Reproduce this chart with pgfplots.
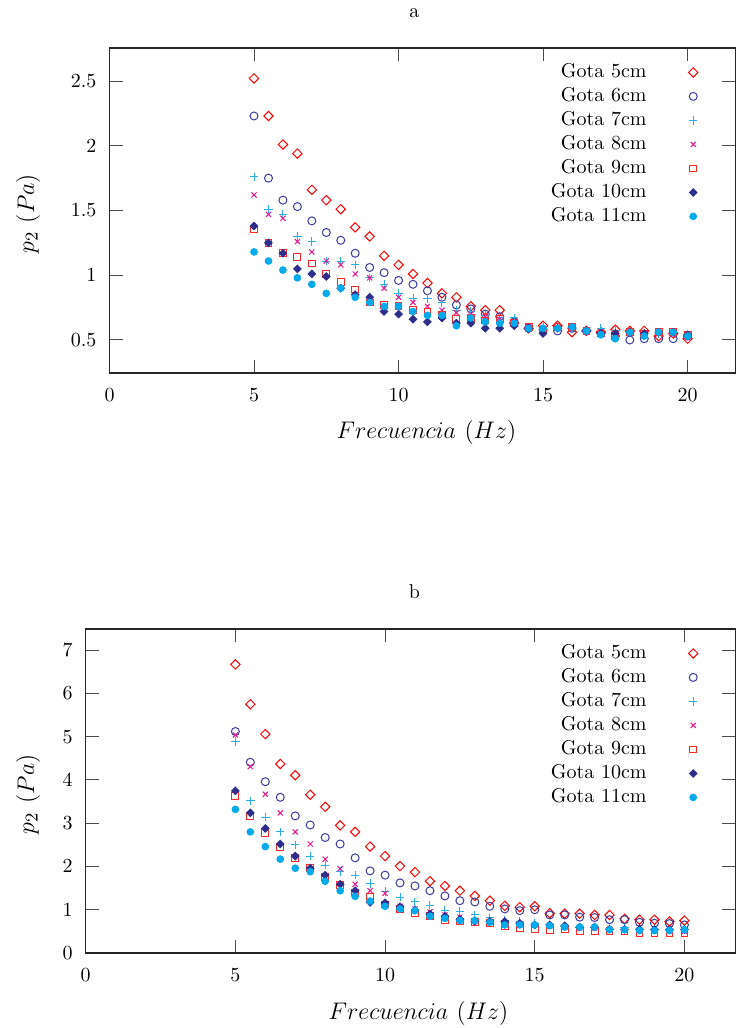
\documentclass[border=0pt]{standalone}
\usepackage{pgfplots}
\usepackage{pgfplotstable}
\pgfplotsset{compat=1.18}

\definecolor{c5}{RGB}{255,0,0}
\definecolor{c6}{RGB}{60,60,160}
\definecolor{c7}{RGB}{40,175,230}
\definecolor{c8}{RGB}{230,20,140}
\definecolor{c9}{RGB}{255,40,40}
\definecolor{c10}{RGB}{45,45,140}
\definecolor{c11}{RGB}{0,170,235}

% p2 (Pa) vs frecuencia, case a
\pgfplotstableread{
x    g5   g6   g7   g8   g9   g10  g11
5    2.52 2.23 1.76 1.62 1.36 1.38 1.18
5.5  2.23 1.75 1.51 1.47 1.25 1.25 1.11
6    2.01 1.58 1.47 1.44 1.17 1.17 1.04
6.5  1.94 1.53 1.30 1.26 1.14 1.05 0.98
7    1.66 1.42 1.26 1.18 1.09 1.01 0.93
7.5  1.58 1.33 1.11 1.11 1.01 0.99 0.86
8    1.51 1.27 1.11 1.08 0.95 0.90 0.90
8.5  1.37 1.17 1.08 1.01 0.89 0.85 0.83
9    1.30 1.06 0.98 0.98 0.79 0.83 0.79
9.5  1.15 1.02 0.93 0.90 0.77 0.72 0.76
10   1.08 0.96 0.86 0.83 0.76 0.70 0.76
10.5 1.01 0.93 0.82 0.79 0.73 0.66 0.72
11   0.94 0.88 0.82 0.76 0.72 0.64 0.69
11.5 0.86 0.83 0.79 0.73 0.69 0.67 0.69
12   0.83 0.77 0.73 0.71 0.66 0.63 0.61
12.5 0.76 0.74 0.72 0.70 0.67 0.63 0.67
13   0.73 0.70 0.69 0.68 0.65 0.59 0.64
13.5 0.73 0.68 0.67 0.66 0.66 0.59 0.63
14   0.63 0.64 0.67 0.63 0.63 0.61 0.63
14.5 0.59 0.59 0.59 0.60 0.60 0.59 0.59
15   0.61 0.58 0.60 0.59 0.58 0.55 0.59
15.5 0.61 0.57 0.60 0.60 0.60 0.59 0.59
16   0.56 0.59 0.60 0.59 0.60 0.60 0.60
16.5 0.57 0.57 0.57 0.57 0.57 0.57 0.57
17   0.56 0.55 0.59 0.56 0.55 0.55 0.54
17.5 0.58 0.53 0.57 0.56 0.53 0.55 0.51
18   0.57 0.50 0.56 0.55 0.56 0.56 0.56
18.5 0.57 0.51 0.55 0.55 0.55 0.55 0.53
19   0.53 0.51 0.55 0.55 0.56 0.56 0.56
19.5 0.55 0.51 0.55 0.54 0.56 0.56 0.56
20   0.51 0.53 0.54 0.54 0.54 0.54 0.53
}\dataA

% case b
\pgfplotstableread{
x    g5   g6   g7   g8   g9   g10  g11
5    6.67 5.12 4.89 5.04 3.63 3.75 3.32
5.5  5.75 4.41 3.52 4.31 3.17 3.24 2.80
6    5.06 3.96 3.14 3.67 2.77 2.88 2.46
6.5  4.37 3.60 2.80 3.24 2.46 2.52 2.17
7    4.11 3.17 2.50 2.80 2.19 2.24 1.96
7.5  3.66 2.96 2.24 2.52 1.96 1.96 1.88
8    3.38 2.67 2.03 2.17 1.76 1.80 1.66
8.5  2.95 2.52 1.88 1.95 1.57 1.59 1.44
9    2.80 2.20 1.80 1.59 1.40 1.44 1.31
9.5  2.46 1.90 1.61 1.44 1.30 1.17 1.20
10   2.24 1.80 1.42 1.38 1.12 1.16 1.08
10.5 2.01 1.62 1.29 1.08 1.02 1.07 1.02
11   1.87 1.55 1.18 1.02 0.92 0.99 0.98
11.5 1.66 1.44 1.11 0.95 0.85 0.90 0.85
12   1.55 1.32 0.99 0.88 0.76 0.85 0.80
12.5 1.44 1.21 0.96 0.83 0.73 0.78 0.75
13   1.32 1.18 0.88 0.75 0.71 0.73 0.75
13.5 1.21 1.08 0.81 0.73 0.69 0.73 0.71
14   1.09 1.02 0.75 0.69 0.63 0.73 0.65
14.5 1.06 0.98 0.73 0.65 0.58 0.69 0.65
15   1.08 1.00 0.69 0.65 0.55 0.65 0.65
15.5 0.92 0.88 0.65 0.63 0.54 0.65 0.63
16   0.91 0.88 0.62 0.60 0.55 0.63 0.60
16.5 0.91 0.83 0.60 0.58 0.50 0.60 0.60
17   0.88 0.82 0.60 0.58 0.50 0.60 0.60
17.5 0.88 0.77 0.55 0.55 0.50 0.55 0.54
18   0.79 0.77 0.58 0.54 0.50 0.55 0.54
18.5 0.77 0.71 0.55 0.52 0.45 0.55 0.52
19   0.77 0.69 0.54 0.52 0.46 0.54 0.52
19.5 0.73 0.68 0.54 0.52 0.46 0.54 0.52
20   0.75 0.65 0.55 0.50 0.46 0.54 0.54
}\dataB

\pgfplotsset{
  gota/.style={
    scale only axis,
    anchor=north west,
    xmin=0,
    xtick={0,5,10,15,20},
    tick align=inside,
    major tick length=6.5pt,
    every tick/.style={black!70, line width=0.5pt},
    axis line style={black!85, line width=0.6pt},
    xticklabel style={yshift=-4.2pt},
    yticklabel style={xshift=-3pt},
    xlabel={\fontsize{13}{15}\selectfont $Frecuencia\ (Hz)$},
    ylabel={\fontsize{13}{15}\selectfont $p_2\ (Pa)$},
    legend plot pos=right,
    legend cell align=right,
    legend style={at={(1,1)}, anchor=north east, draw=none, fill=none,
      font=\normalsize, xshift=-15.5pt, yshift=-4pt, row sep=0pt,
      nodes={inner ysep=1.5pt, text height=6.9pt, text depth=2.1pt},
      /tikz/every odd column/.append style={column sep=19pt}},
  },
  s5/.style={only marks, color=c5, mark=square, mark size=1.65pt, mark options={solid, rotate=45, line width=0.5pt}},
  s6/.style={only marks, color=c6, mark=o, mark size=2pt, mark options={solid, line width=0.5pt}},
  s7/.style={only marks, color=c7, mark=+, mark size=2.1pt, mark options={solid, line width=0.5pt}},
  s8/.style={only marks, color=c8, mark=x, mark size=1.8pt, mark options={solid, line width=0.5pt}},
  s9/.style={only marks, color=c9, mark=square, mark size=1.7pt, mark options={solid, line width=0.5pt}},
  s10/.style={only marks, color=c10, mark=square*, mark size=1.35pt, mark options={solid, rotate=45, fill=c10}},
  s11/.style={only marks, color=c11, mark=*, mark size=1.7pt, mark options={solid, fill=c11}},
}

\begin{document}
\begin{tikzpicture}
\path[use as bounding box] (0,0) rectangle (368pt,-514pt);

\begin{axis}[gota,
  at={(54.75pt,-24pt)},
  width=312.9pt, height=162.5pt,
  xmax=21.65, ymin=0.245, ymax=2.755,
  ytick={0.5,1,1.5,2,2.5},
  title={a},
  title style={at={(axis description cs:0.5,1)}, anchor=center, yshift=11.5pt, xshift=-4pt},
  xlabel style={at={(axis description cs:0.5,0)}, anchor=center, yshift=-29.5pt, xshift=2pt},
  ylabel style={at={(axis description cs:-0.1302,0.49)}, anchor=center},
]
\addplot[s5]  table[x=x, y=g5]  {\dataA}; \addlegendentry{Gota 5cm}
\addplot[s6]  table[x=x, y=g6]  {\dataA}; \addlegendentry{Gota 6cm}
\addplot[s7]  table[x=x, y=g7]  {\dataA}; \addlegendentry{Gota 7cm}
\addplot[s8]  table[x=x, y=g8]  {\dataA}; \addlegendentry{Gota 8cm}
\addplot[s9]  table[x=x, y=g9]  {\dataA}; \addlegendentry{Gota 9cm}
\addplot[s10] table[x=x, y=g10] {\dataA}; \addlegendentry{Gota 10cm}
\addplot[s11] table[x=x, y=g11] {\dataA}; \addlegendentry{Gota 11cm}
\end{axis}

\begin{axis}[gota,
  at={(42.85pt,-314.5pt)},
  width=324.8pt, height=162pt,
  xmax=21.70, ymin=0, ymax=7.49,
  ytick={0,1,2,3,4,5,6,7},
  title={b},
  title style={at={(axis description cs:0.5,1)}, anchor=center, yshift=12.5pt, xshift=2pt},
  xlabel style={at={(axis description cs:0.5,0)}, anchor=center, yshift=-30pt, xshift=4pt},
  ylabel style={at={(axis description cs:-0.0888,0.49)}, anchor=center},
]
\addplot[s5]  table[x=x, y=g5]  {\dataB}; \addlegendentry{Gota 5cm}
\addplot[s6]  table[x=x, y=g6]  {\dataB}; \addlegendentry{Gota 6cm}
\addplot[s7]  table[x=x, y=g7]  {\dataB}; \addlegendentry{Gota 7cm}
\addplot[s8]  table[x=x, y=g8]  {\dataB}; \addlegendentry{Gota 8cm}
\addplot[s9]  table[x=x, y=g9]  {\dataB}; \addlegendentry{Gota 9cm}
\addplot[s10] table[x=x, y=g10] {\dataB}; \addlegendentry{Gota 10cm}
\addplot[s11] table[x=x, y=g11] {\dataB}; \addlegendentry{Gota 11cm}
\end{axis}
\end{tikzpicture}
\end{document}
